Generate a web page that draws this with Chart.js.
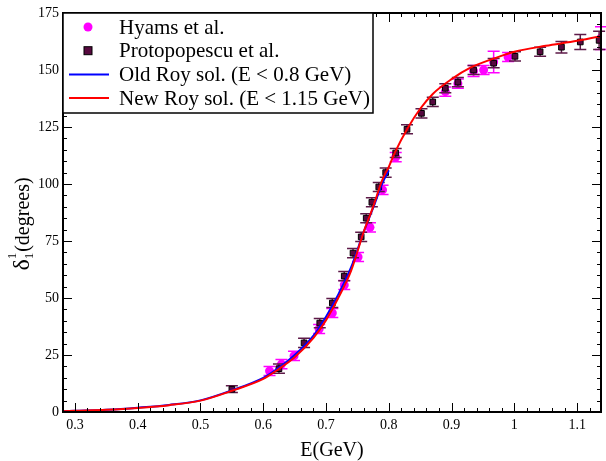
<!DOCTYPE html>
<html>
<head>
<meta charset="utf-8">
<script src="https://cdn.jsdelivr.net/npm/chart.js@4/dist/chart.umd.min.js"></script>
<style>
  html, body { margin: 0; background: #fff; }
</style>
</head>
<body>
<canvas id="myChart" width="606" height="461"></canvas>
<script>
// Hyams et al. (magenta circles)
const hyamsE     = [0.610, 0.629, 0.649, 0.689, 0.710, 0.729, 0.751, 0.770, 0.790, 0.811, 0.890, 0.910, 0.935, 0.951, 0.967, 0.990, 1.138];
const hyamsDelta = [18.0, 21.0, 24.6, 36.4, 43.4, 55.7, 68.0, 81.0, 97.4, 111.8, 140.5, 144.0, 149.6, 150.0, 153.5, 155.7, 164.0];
const hyamsErr   = [2, 2, 2, 2, 2, 2, 2, 2, 2, 2, 2, 2, 2.4, 2, 4.7, 2, 5];

// Protopopescu et al. (dark squares)
const protoE     = [0.550, 0.625, 0.665, 0.690, 0.710, 0.729, 0.743, 0.756, 0.764, 0.773, 0.784, 0.795, 0.811, 0.829, 0.852, 0.870, 0.890, 0.910, 0.935, 0.967, 1.001, 1.041, 1.075, 1.105, 1.135];
const protoDelta = [10.0, 19.0, 30.3, 39.0, 47.8, 59.6, 69.7, 76.8, 85.0, 92.0, 98.7, 105.0, 113.6, 124.0, 131.0, 136.0, 142.0, 144.7, 150.0, 153.0, 156.0, 158.0, 160.0, 162.3, 163.0];
const protoErr   = [1.5, 2, 2, 2, 2, 2, 2, 2, 2, 2, 2, 2, 2, 2, 2, 2, 2, 2, 2, 2, 2, 2, 2.5, 3.3, 4];

// Old Roy solution (blue), E < 0.8 GeV
const oldRoyE     = [0.28, 0.30, 0.35, 0.40, 0.45, 0.50, 0.55, 0.60, 0.62, 0.65, 0.68, 0.70, 0.72, 0.74, 0.76, 0.775, 0.79, 0.80];
const oldRoyDelta = [0.3, 0.5, 1.0, 1.9, 3.1, 5.1, 9.5, 15.0, 18.5, 25.0, 33.5, 41.8, 51.8, 63.5, 79.0, 89.5, 100.5, 106.0];

// New Roy solution (red), E < 1.15 GeV
const newRoyE     = [0.28, 0.30, 0.35, 0.40, 0.45, 0.50, 0.55, 0.60, 0.62, 0.65, 0.68, 0.70, 0.72, 0.74, 0.76, 0.775, 0.79, 0.80, 0.81, 0.83, 0.85, 0.87, 0.90, 0.93, 0.97, 1.00, 1.05, 1.10, 1.15];
const newRoyDelta = [0.3, 0.5, 1.0, 1.8, 3.0, 5.0, 9.3, 14.5, 18.0, 24.0, 32.5, 40.3, 50.3, 62.0, 79.0, 90.0, 102.0, 107.5, 114.0, 124.5, 133.0, 139.5, 146.0, 151.0, 155.3, 158.0, 160.6, 162.8, 165.5];

const xTicks = [0.3, 0.4, 0.5, 0.6, 0.7, 0.8, 0.9, 1.0, 1.1];
const yTicks = [0, 25, 50, 75, 100, 125, 150, 175];

const SERIF = "'Liberation Serif', 'DejaVu Serif', serif";
const pts = (xs, ys) => xs.map((x, i) => ({ x: x, y: ys[i] }));

// error bars, minor ticks, frame, legend and y title
const decor = {
  id: 'decor',
  beforeDatasetDraw(chart, args) {
    const ds = chart.data.datasets[args.index];
    if (!ds.errors) return;
    const ctx = chart.ctx, xs = chart.scales.x, ys = chart.scales.y;
    ctx.save();
    ctx.strokeStyle = ds.errColor;
    ctx.lineWidth = 1.5;
    ds.data.forEach((p, i) => {
      const px = xs.getPixelForValue(p.x);
      const y1 = ys.getPixelForValue(p.y - ds.errors[i]);
      const y2 = ys.getPixelForValue(p.y + ds.errors[i]);
      ctx.beginPath();
      ctx.moveTo(px, y1); ctx.lineTo(px, y2);
      ctx.moveTo(px - 6, y1); ctx.lineTo(px + 6, y1);
      ctx.moveTo(px - 6, y2); ctx.lineTo(px + 6, y2);
      ctx.stroke();
    });
    ctx.restore();
  },
  afterDraw(chart) {
    const ctx = chart.ctx, a = chart.chartArea;
    const xs = chart.scales.x, ys = chart.scales.y;
    ctx.save();
    ctx.strokeStyle = '#000';
    ctx.lineWidth = 1;
    ctx.beginPath();
    for (let v = 0.3; v < 1.14; v += 0.02) {
      const px = Math.round(xs.getPixelForValue(v)) + 0.5;
      if (px < a.left || px > a.right) continue;
      const major = Math.abs(v * 10 - Math.round(v * 10)) < 1e-6;
      const len = major ? 9 : 4;
      ctx.moveTo(px, a.bottom); ctx.lineTo(px, a.bottom - len);
      ctx.moveTo(px, a.top); ctx.lineTo(px, a.top + len);
    }
    for (let v = 5; v < 175; v += 5) {
      const py = Math.round(ys.getPixelForValue(v)) + 0.5;
      const len = v % 25 === 0 ? 9 : 4;
      ctx.moveTo(a.left, py); ctx.lineTo(a.left + len, py);
      ctx.moveTo(a.right, py); ctx.lineTo(a.right - len, py);
    }
    ctx.stroke();
    ctx.lineWidth = 2;
    ctx.strokeRect(a.left, a.top, a.right - a.left, a.bottom - a.top);

    // legend box
    const lx = a.left, ly = a.top, lw = 310, lh = 100;
    ctx.fillStyle = '#fff';
    ctx.fillRect(lx, ly, lw, lh);
    ctx.lineWidth = 1.5;
    ctx.strokeRect(lx, ly, lw, lh);
    const rows = [chart.data.datasets[3], chart.data.datasets[2], chart.data.datasets[1], chart.data.datasets[0]];
    ctx.font = '21px ' + SERIF;
    ctx.textBaseline = 'middle';
    rows.forEach((ds, i) => {
      const cy = ly + 14 + i * 23.7;
      if (ds.pointStyle === 'circle') {
        ctx.fillStyle = ds.backgroundColor;
        ctx.beginPath(); ctx.arc(lx + 25, cy, 4.5, 0, Math.PI * 2); ctx.fill();
      } else if (ds.pointStyle === 'rect') {
        ctx.fillStyle = ds.backgroundColor;
        ctx.fillRect(lx + 21, cy - 4, 8, 8);
        ctx.lineWidth = 1; ctx.strokeStyle = '#000';
        ctx.strokeRect(lx + 21, cy - 4, 8, 8);
      } else {
        ctx.strokeStyle = ds.borderColor; ctx.lineWidth = 2;
        ctx.beginPath(); ctx.moveTo(lx + 6, cy); ctx.lineTo(lx + 46, cy); ctx.stroke();
      }
      ctx.fillStyle = '#000';
      ctx.fillText(ds.label, lx + 56, cy + 1);
    });

    // y title: delta with stacked 1/1
    ctx.translate(22, 224);
    ctx.rotate(-Math.PI / 2);
    ctx.fillStyle = '#000';
    ctx.textBaseline = 'alphabetic';
    ctx.font = '24px ' + SERIF;
    const wD = ctx.measureText('δ').width;
    ctx.font = '13px ' + SERIF;
    const wOne = ctx.measureText('1').width;
    ctx.font = '20px ' + SERIF;
    const wRest = ctx.measureText('(degrees)').width;
    let x0 = -(wD + wOne + 1 + wRest) / 2;
    ctx.font = '24px ' + SERIF;
    ctx.fillText('δ', x0, 7);
    ctx.font = '13px ' + SERIF;
    ctx.fillText('1', x0 + wD, -6);
    ctx.fillText('1', x0 + wD, 11);
    ctx.font = '20px ' + SERIF;
    ctx.fillText('(degrees)', x0 + wD + wOne + 1, 7);
    ctx.restore();
  }
};

new Chart(document.getElementById('myChart'), {
  type: 'scatter',
  data: {
    datasets: [
      {
        label: 'New Roy sol. (E < 1.15 GeV)',
        data: pts(newRoyE, newRoyDelta),
        showLine: true,
        borderColor: '#ff0000',
        borderWidth: 2,
        pointRadius: 0,
        cubicInterpolationMode: 'monotone',
        order: 0
      },
      {
        label: 'Old Roy sol. (E < 0.8 GeV)',
        data: pts(oldRoyE, oldRoyDelta),
        showLine: true,
        borderColor: '#0000ff',
        borderWidth: 2,
        pointRadius: 0,
        cubicInterpolationMode: 'monotone',
        order: 1
      },
      {
        label: 'Protopopescu et al.',
        data: pts(protoE, protoDelta),
        errors: protoErr,
        errColor: '#5e1a48',
        pointStyle: 'rect',
        pointRadius: 4,
        backgroundColor: '#57093f',
        borderColor: '#000',
        borderWidth: 1,
        order: 2
      },
      {
        label: 'Hyams et al.',
        data: pts(hyamsE, hyamsDelta),
        errors: hyamsErr,
        errColor: '#ff00ff',
        pointStyle: 'circle',
        pointRadius: 4.5,
        backgroundColor: '#ff00ff',
        borderColor: '#ff00ff',
        borderWidth: 0,
        order: 3
      }
    ]
  },
  options: {
    responsive: false,
    animation: false,
    devicePixelRatio: 1,
    layout: { padding: { top: 13, right: 3, left: 0, bottom: 0 } },
    plugins: { legend: { display: false }, tooltip: { enabled: false } },
    scales: {
      x: {
        type: 'linear',
        min: 0.281,
        max: 1.138,
        afterBuildTicks: (s) => { s.ticks = xTicks.map(v => ({ value: v })); },
        afterFit: (s) => { s.height = 49; },
        grid: { display: false, drawTicks: false },
        border: { display: false },
        ticks: {
          padding: 5,
          color: '#000',
          font: { family: SERIF, size: 14 },
          callback: (v) => String(+v.toFixed(2))
        },
        title: {
          display: true,
          text: 'E(GeV)',
          color: '#000',
          font: { family: SERIF, size: 20, lineHeight: 1 },
          padding: { top: 0, bottom: 0 }
        }
      },
      y: {
        type: 'linear',
        min: 0,
        max: 175,
        afterBuildTicks: (s) => { s.ticks = yTicks.map(v => ({ value: v })); },
        afterFit: (s) => { s.width = 63; },
        grid: { display: false, drawTicks: false },
        border: { display: false },
        ticks: {
          padding: 4,
          color: '#000',
          font: { family: SERIF, size: 14 }
        }
      }
    }
  },
  plugins: [decor]
});
</script>
</body>
</html>
